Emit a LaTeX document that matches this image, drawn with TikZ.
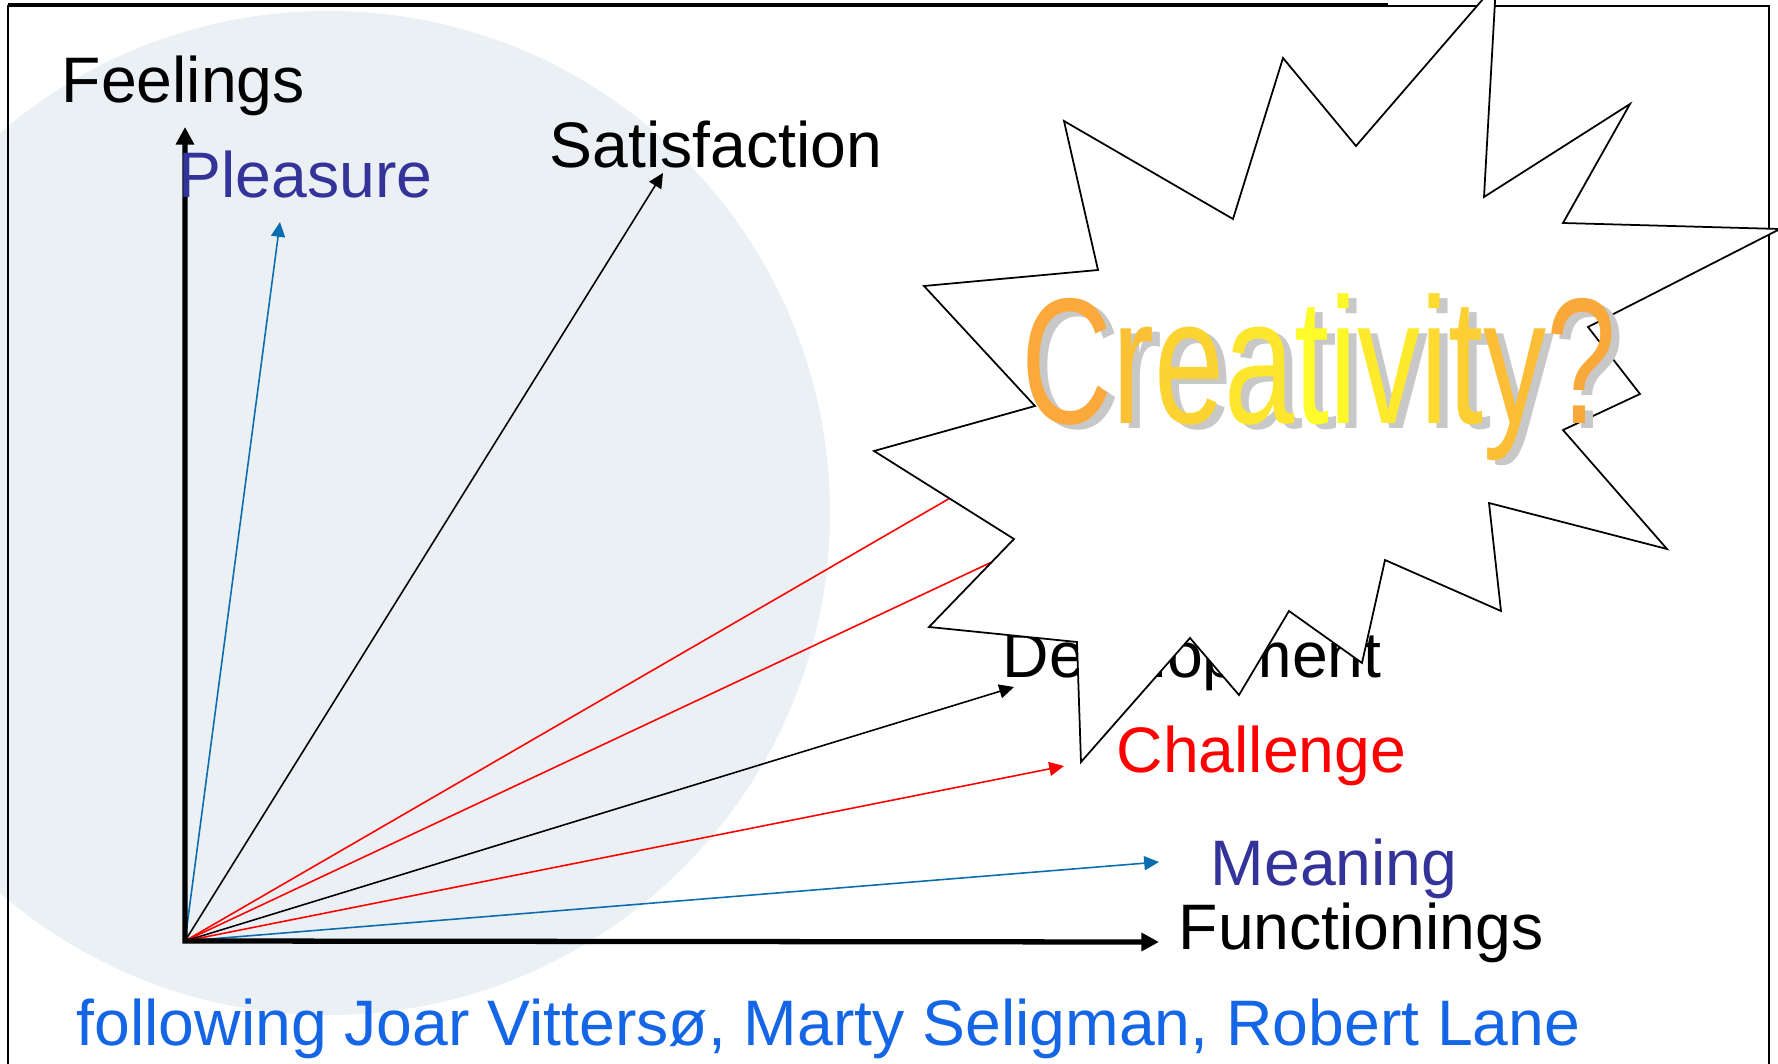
\documentclass[tikz,border=0pt]{standalone}
\usepackage{fontspec}
\setmainfont{Liberation Sans}
\newfontfamily\wordartfont[FakeStretch=0.703]{Liberation Sans}
\usetikzlibrary{arrows.meta}
\definecolor{discgrey}{RGB}{235,240,245}
\definecolor{arrowblue}{RGB}{11,109,176}
\definecolor{labelblue}{RGB}{51,51,153}
\definecolor{creditblue}{RGB}{20,102,230}
\definecolor{wordorange}{RGB}{249,160,60}
\definecolor{wordyellow}{RGB}{255,255,40}
\definecolor{wordshadow}{RGB}{200,200,200}
\newcommand{\wa}[2]{\textcolor{wordyellow!#1!wordorange}{#2}}
\tikzset{
  axis/.style={line width=1.5pt,{Triangle[length=5pt,width=5pt]}-{Triangle[length=5pt,width=5pt]}},
  vec/.style={line width=.45pt,-{Triangle[length=4.2pt,width=4pt]}},
  lbl/.style={anchor=base west,inner sep=0pt,font=\fontsize{18.3}{20}\selectfont},
  wordart/.style={anchor=base west,inner sep=0pt,font=\wordartfont\fontsize{51}{56}\selectfont},
  burst/.style={draw,fill=white,line width=.5pt,line join=miter}
}
\begin{document}
\begin{tikzpicture}[x=0.1mm,y=-0.1mm]
\useasboundingbox (0,0) rectangle (1778,1064);
\fill[discgrey] (328,513) circle (50.2mm);
\draw[line width=.45pt] (8,6) rectangle (1769,1090);
\draw[line width=.9pt] (8,5) -- (1388,5);
\coordinate (O) at (185,941);
\coordinate (feelTip) at (185,127);
\coordinate (funcTip) at (1159,942);
\coordinate (pleaTip) at (280,222);
\coordinate (satiTip) at (663,173);
\coordinate (hidTipA) at (1040,446);
\coordinate (hidTipB) at (1060,530);
\coordinate (deveTip) at (1014,687);
\coordinate (chalTip) at (1064,766);
\coordinate (meanTip) at (1159,862);
\draw[vec,arrowblue] (O) -- (pleaTip);
\draw[vec] (O) -- (satiTip);
\draw[vec,red] (O) -- (hidTipA);
\draw[vec,red] (O) -- (hidTipB);
\draw[vec] (O) -- (deveTip);
\draw[vec,red] (O) -- (chalTip);
\draw[vec,arrowblue] (O) -- (meanTip);
\draw[axis] (feelTip) -- (O) -- (funcTip);
\node[lbl] (feel) at (61,102) {Feelings};
\node[lbl,text=labelblue] (plea) at (178,198) {Pleasure};
\node[lbl] (sati) at (549,167) {Satisfaction};
\node[lbl] (deve) at (1002,677) {Development};
\node[lbl,text=red] (chal) at (1116,772) {Challenge};
\node[lbl,text=labelblue] (mean) at (1210,885) {Meaning};
\node[lbl] (func) at (1178,949) {Functionings};
\node[lbl,text=creditblue] (credit) at (76,1045) {following Joar Vittersø, Marty Seligman, Robert Lane};
\draw[burst] (1064,121) -- (1233,219) -- (1283,58) -- (1356,146) -- (1496,-16)
  -- (1484,197) -- (1630,104) -- (1563,223) -- (1780,229) -- (1588,327)
  -- (1640,394) -- (1563,430) -- (1667,549) -- (1489,503) -- (1501,611)
  -- (1385,560) -- (1362,663) -- (1289,611) -- (1239,695) -- (1190,638)
  -- (1081,762) -- (1077,642) -- (929,627) -- (1014,539) -- (874,451)
  -- (1035,406) -- (924,286) -- (1098,270) -- cycle;
\node[wordart,text=wordshadow] (creashadow) at (1029,428) {Creativity?};
\node[wordart] (crea) at (1021,423) {\wa{9}{C}\wa{35}{r}\wa{54}{e}\wa{74}{a}\wa{95}{t}\wa{93}{i}\wa{78}{v}\wa{62}{i}\wa{50}{t}\wa{32}{y}\wa{8}{?}};
\end{tikzpicture}
\end{document}
